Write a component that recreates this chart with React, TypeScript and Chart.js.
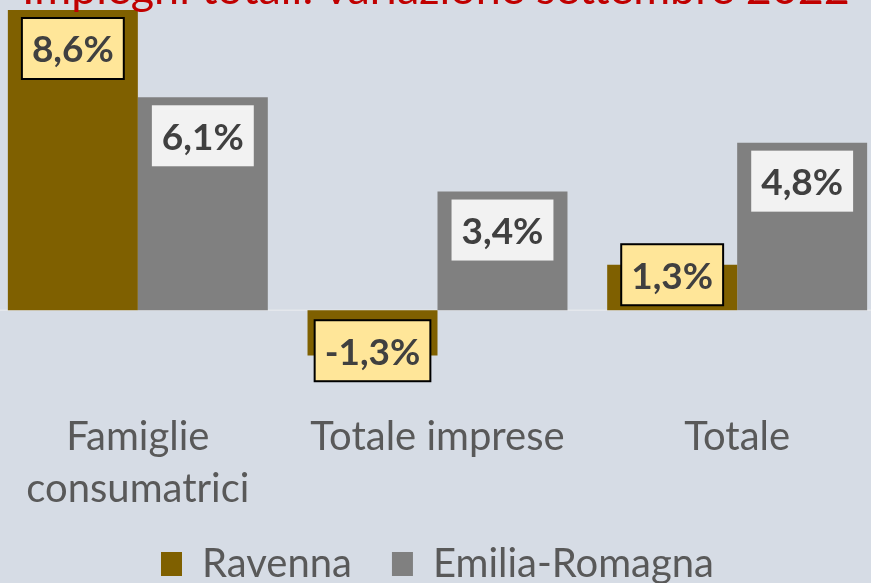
import React, { useEffect, useRef } from "react";
import { Chart, registerables } from "chart.js";
Chart.register(...registerables);

const TITLE = "Impieghi totali: variazione settembre 2022";
const categories: (string | string[])[] = [["Famiglie", "consumatrici"], "Totale imprese", "Totale"];
const seriesNames = ["Ravenna", "Emilia-Romagna"];
const ravenna = [8.6, -1.3, 1.3];
const emiliaRomagna = [6.1, 3.4, 4.8];
const yMin = -2.6;
const yMax = 8.6;

const FONT = "Lato, 'Open Sans', sans-serif";
const BG = "#d6dce5";
const TEXT = "#595959";

const titlePlugin = {
  id: "cutTitle",
  afterDraw(chart: any) {
    const ctx = chart.ctx;
    ctx.save();
    const base = 44;
    ctx.font = `${base}px ${FONT}`;
    const w = ctx.measureText(TITLE).width;
    const size = (base * 828) / w;
    ctx.font = `${size}px ${FONT}`;
    ctx.fillStyle = "#c00000";
    ctx.textBaseline = "alphabetic";
    ctx.textAlign = "left";
    ctx.fillText(TITLE, 36, 4);
    ctx.restore();
  },
};

const zeroLinePlugin = {
  id: "zeroLine",
  beforeDatasetsDraw(chart: any) {
    const ctx = chart.ctx;
    const y = chart.scales.y.getPixelForValue(0);
    const a = chart.chartArea;
    ctx.save();
    ctx.strokeStyle = "#e4e7ec";
    ctx.lineWidth = 1.5;
    ctx.beginPath();
    ctx.moveTo(a.left, y);
    ctx.lineTo(a.right, y);
    ctx.stroke();
    ctx.restore();
  },
};

const labelPlugin = {
  id: "valueLabels",
  afterDatasetsDraw(chart: any) {
    const ctx = chart.ctx;
    const zero = chart.scales.y.getPixelForValue(0);
    chart.data.datasets.forEach((ds: any, di: number) => {
      const meta = chart.getDatasetMeta(di);
      meta.data.forEach((bar: any, i: number) => {
        const v = ds.data[i] as number;
        const text = v.toFixed(1).replace(".", ",") + "%";
        ctx.save();
        ctx.font = `bold 37px ${FONT}`;
        const tw = ctx.measureText(text).width;
        const w = tw + 20;
        const h = 61;
        let top: number;
        if (v >= 0) top = Math.min(bar.y + 8, zero - 5 - h);
        else top = Math.max(bar.y - 8 - h, zero + 10);
        const left = bar.x - w / 2;
        ctx.fillStyle = di === 0 ? "#ffe699" : "#f2f2f2";
        ctx.fillRect(left, top, w, h);
        if (di === 0) {
          ctx.strokeStyle = "#000000";
          ctx.lineWidth = 2;
          ctx.strokeRect(left, top, w, h);
        }
        ctx.fillStyle = "#404040";
        ctx.textAlign = "center";
        ctx.textBaseline = "middle";
        ctx.fillText(text, bar.x, top + h / 2 + 2);
        ctx.restore();
      });
    });
  },
};

export default function App() {
  const ref = useRef<HTMLCanvasElement>(null);
  useEffect(() => {
    const chart = new Chart(ref.current as HTMLCanvasElement, {
      type: "bar",
      data: {
        labels: categories as any,
        datasets: [
          {
            label: seriesNames[0],
            data: ravenna,
            backgroundColor: "#7f6000",
            categoryPercentage: 0.8675,
            barPercentage: 1,
          },
          {
            label: seriesNames[1],
            data: emiliaRomagna,
            backgroundColor: "#808080",
            categoryPercentage: 0.8675,
            barPercentage: 1,
          },
        ],
      },
      options: {
        responsive: false,
        animation: false,
        layout: { padding: { top: 10, left: 2, right: 3, bottom: 0 } },
        scales: {
          x: {
            grid: { display: false, drawTicks: false },
            border: { display: false },
            ticks: {
              color: TEXT,
              padding: 10,
              maxRotation: 0,
              autoSkip: false,
              font: { family: FONT, size: 40, lineHeight: 1.3 },
            },
            afterFit: (scale: any) => {
              scale.height = 103;
            },
          },
          y: {
            display: false,
            min: yMin,
            max: yMax,
          },
        },
        plugins: {
          legend: {
            position: "bottom",
            labels: {
              color: TEXT,
              boxWidth: 21,
              boxHeight: 24,
              padding: 40,
              font: { family: FONT, size: 40 },
            },
          },
          tooltip: { enabled: false },
          title: { display: false },
        },
      },
      plugins: [zeroLinePlugin, labelPlugin, titlePlugin],
    });
    return () => chart.destroy();
  }, []);
  return (
    <div style={{ position: "fixed", inset: 0, overflow: "hidden", background: BG }}>
      <div style={{ position: "absolute", left: -14, top: 0, width: 904, height: 594 }}>
        <canvas ref={ref} width={904} height={594} style={{ display: "block" }} />
      </div>
    </div>
  );
}
